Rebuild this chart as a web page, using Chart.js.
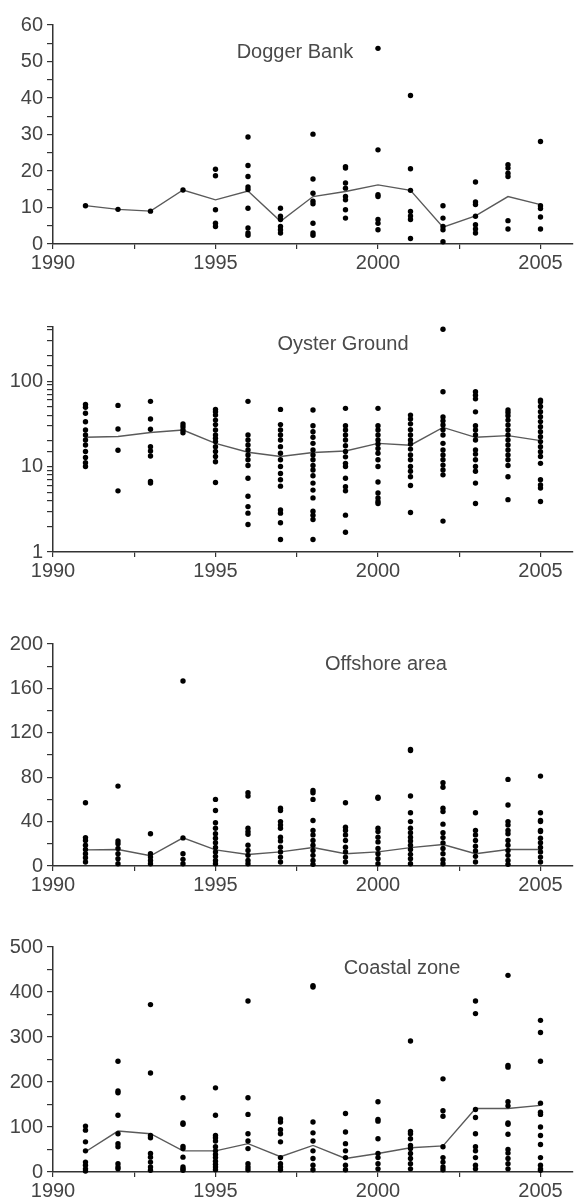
<!DOCTYPE html>
<html>
<head>
<meta charset="utf-8">
<script src="https://cdn.jsdelivr.net/npm/chart.js@4.4.1/dist/chart.umd.min.js"></script>
<style>
  html, body { margin: 0; padding: 0; background: #fff; overflow: hidden; }
  body { width: 577px; height: 1199px; position: relative; }
  canvas { position: absolute; left: 0; }
  .ttl { position: absolute; font-family: 'Liberation Sans', Arial, sans-serif; font-size: 20px; color: #4a4a4a; white-space: nowrap; transform: translate(-50%, -50%); line-height: 1; }
</style>
</head>
<body>
<canvas id="c1" width="577" height="279" style="top:0px"></canvas>
<canvas id="c2" width="577" height="285" style="top:302px"></canvas>
<canvas id="c3" width="577" height="282" style="top:619px"></canvas>
<canvas id="c4" width="577" height="285" style="top:922px"></canvas>
<div class="ttl" style="left:295px; top:51px">Dogger Bank</div>
<div class="ttl" style="left:343px; top:343px">Oyster Ground</div>
<div class="ttl" style="left:386px; top:663px">Offshore area</div>
<div class="ttl" style="left:402px; top:967px">Coastal zone</div>
<script>
// ---------------- DATA ----------------
const years = [1991,1992,1993,1994,1995,1996,1997,1998,1999,2000,2001,2002,2003,2004,2005];
const xTickLabels = [1990, 1995, 2000, 2005];

// Dogger Bank
const doggerLine = [10.5, 9.5, 9, 14.8, 12.1, 14.5, 6.2, 13.0, 14.4, 16.2, 14.7, 4.6, 7.7, 13.0, 10.8];
const doggerPoints = [
  [10.5],
  [9.5],
  [9],
  [14.8],
  [20.5, 18.7, 9.4, 5.7, 4.8],
  [29.3, 21.5, 18.5, 15.6, 14.9, 9.8, 4.4, 3.0, 2.4],
  [9.8, 7.6, 6.7, 4.8, 3.9, 3.0],
  [30.1, 17.8, 13.9, 11.7, 11.0, 5.7, 3.0, 2.4],
  [21.2, 20.8, 16.7, 15.3, 13.0, 12.1, 9.4, 7.1],
  [53.6, 25.8, 13.5, 13.0, 6.7, 5.7, 3.9],
  [40.7, 20.6, 14.7, 8.9, 7.7, 6.7, 1.5],
  [10.5, 7.1, 4.8, 3.9, 0.6],
  [17.0, 11.5, 10.8, 7.6, 5.3, 4.1, 3.0],
  [21.7, 20.8, 19.4, 18.5, 6.4, 4.1],
  [28.1, 10.5, 9.7, 7.4, 4.1]
];
const doggerYTicks = [0, 10, 20, 30, 40, 50, 60];

// Oyster Ground (log scale)
const oysterLine = [22, 22.5, 25, 26.8, 18.7, 14.7, 13.1, 14.6, 15.2, 18.7, 17.8, 28.7, 22, 23, 20.1];
const oysterPoints = [
  [53.4, 49.3, 42, 33.5, 26.8, 23.4, 20.5, 17.9, 15, 12.8, 11.1, 10],
  [52, 27.5, 15.5, 5.2],
  [58, 36, 27.3, 17.1, 15.2, 13.3, 6.7, 6.4],
  [31.5, 29.3, 26.8, 24.9],
  [46.7, 43.7, 40, 35, 31, 26.8, 23.4, 21.4, 19.6, 17.1, 15, 13.1, 11.4, 6.5],
  [58, 23.4, 20.5, 17.9, 15.6, 13.7, 12, 10.3, 7.3, 4.5, 3.4, 2.85, 2.1],
  [46.7, 31, 26.8, 23.4, 20.5, 17.1, 14.3, 12, 10, 8.3, 7, 5.9, 3.1, 2.85, 2.2, 1.4],
  [46, 30, 25.6, 22, 18.7, 15.6, 13.7, 12, 10.3, 9.1, 7.8, 6.4, 5.3, 4.3, 3.0, 2.7, 2.4, 1.4],
  [48, 30, 26.8, 23.4, 20.5, 17.5, 15, 13, 10.9, 10, 7.3, 5.8, 5.2, 2.7, 1.7],
  [48, 30, 26.8, 23.4, 20.5, 18.4, 16.3, 14.3, 12, 10, 6.6, 4.9, 4.3, 3.9, 3.7],
  [40, 36, 31.6, 27, 23.4, 20.5, 18.4, 16, 13.7, 12, 10, 8.8, 7.6, 6, 2.9],
  [405, 75, 38, 34.3, 30.7, 27, 23.4, 18.7, 15.6, 13.7, 12, 10.4, 9.1, 8, 2.3],
  [75, 68.5, 62, 43.7, 30, 26.8, 23.4, 20.5, 15.6, 14, 12, 10, 8.8, 6.4, 3.7],
  [46, 42.8, 39.3, 35, 30.7, 26.8, 23.4, 20.5, 17.9, 15.6, 13.7, 12, 10.3, 7.6, 4.1],
  [60, 57.5, 50.4, 43.8, 38.3, 33.6, 29.3, 25.6, 22.4, 19.6, 17.1, 14.9, 13.1, 10.9, 7, 6.1, 5.6, 3.9]
];
const oysterYTicks = [1, 10, 100];

// Offshore area
const offshoreLine = [14.5, 14.8, 9.2, 25.4, 14.5, 10.4, 12.7, 16.6, 11, 12.7, 16.6, 19.3, 11, 14.8, 14.8];
const offshorePoints = [
  [57, 25.6, 23, 18.7, 14.8, 11, 7.5, 3.6],
  [72, 22.6, 20, 15.7, 11, 6.6, 2],
  [29, 11, 8, 5, 2],
  [166.6, 25.3, 11, 6, 2],
  [60, 50, 39, 34, 29, 25, 21, 16.6, 12.7, 8.7, 5, 2],
  [66, 63, 34, 31, 28.6, 18.7, 14, 9.6, 5, 2],
  [52, 50, 40, 37, 34, 26, 22.6, 17, 12.7, 8, 3.6],
  [68, 66, 60, 41, 32, 28, 23, 18.7, 14, 9.6, 5, 1.5],
  [57, 35, 32, 28, 23, 17, 12.7, 8, 3.6],
  [62, 61, 34, 31, 26, 21.7, 15.7, 11, 6.6, 2],
  [105, 104, 63, 48, 40, 34, 30, 26, 22.6, 18.7, 14.8, 10.5, 6.6, 2],
  [75, 71, 52, 49, 37.7, 30, 25.6, 20.8, 15.7, 11, 5.7, 2],
  [48, 32, 28, 23, 17.8, 13.6, 8.7, 3.6],
  [78, 55, 40, 37, 32, 29, 23, 18.7, 14, 9.6, 5, 1.5],
  [81, 48, 41, 40, 32, 31, 25, 21, 16.6, 12.7, 8, 3.6]
];
const offshoreYTicks = [0, 40, 80, 120, 160, 200];

// Coastal zone
const coastalLine = [45, 91, 85, 47, 47, 63, 34, 59, 30, 41, 54, 58, 141, 141, 148];
const coastalPoints = [
  [102, 93, 67, 47, 22, 15, 7, 2],
  [246, 180, 176, 126, 85, 63, 56, 18.5, 11, 7],
  [372, 220, 81, 76, 41, 33, 22, 11, 4],
  [165, 109, 106, 57, 52, 33, 11, 7, 4],
  [187, 126, 81, 76, 69, 56, 47, 39, 32, 24, 17, 11, 5],
  [380, 165, 128, 85, 69, 52, 18.5, 11, 5],
  [118, 111, 94, 85, 67, 32, 18.5, 11, 5],
  [414, 411, 111, 87, 69, 47, 30, 15, 5],
  [130, 89, 63, 47, 32, 15, 5],
  [156, 117, 113, 74, 41, 32, 18.5, 7],
  [291, 90, 85, 74, 59, 52, 41, 30, 18.5, 7],
  [207, 136, 124, 56, 32, 22, 11, 5],
  [380, 352, 139, 121, 85, 56, 47, 32, 15, 7],
  [437, 237, 233, 156, 147, 109, 106, 84, 50, 42, 30, 18.5, 7],
  [337, 310, 246, 153, 133, 128, 100, 81, 61, 32, 15, 7, 4]
];
const coastalYTicks = [0, 100, 200, 300, 400, 500];

// ---------------- RENDER ----------------
const FONT = { family: "'Liberation Sans', Arial, sans-serif", size: 20 };
const TXT = '#444';
const AX = '#333';

function scatterData(pts) {
  const out = [];
  pts.forEach((arr, i) => arr.forEach(v => out.push({ x: years[i], y: v })));
  return out;
}
function lineData(vals) {
  return vals.map((v, i) => ({ x: years[i], y: v }));
}

function makeChart(id, pts, line, yScale) {
  new Chart(document.getElementById(id), {
    type: 'scatter',
    data: {
      datasets: [
        {
          type: 'line',
          data: lineData(line),
          borderColor: '#5a5a5a',
          borderWidth: 1.4,
          pointRadius: 0,
          tension: 0,
          clip: false,
          order: 2
        },
        {
          type: 'scatter',
          data: scatterData(pts),
          backgroundColor: '#000',
          borderColor: '#000',
          borderWidth: 0,
          pointRadius: 2.7,
          clip: false,
          order: 1
        }
      ]
    },
    options: {
      responsive: false,
      animation: false,
      devicePixelRatio: 1,
      layout: { padding: { top: 25, left: 0, right: 0, bottom: 0 } },
      plugins: { legend: { display: false }, tooltip: { enabled: false } },
      scales: {
        x: {
          type: 'linear',
          min: 1990,
          max: 2006,
          afterFit: s => { s.height = 35; },
          border: { display: true, color: AX, width: 1.5 },
          grid: { display: true, drawOnChartArea: false, drawTicks: true, tickLength: 5, color: AX, lineWidth: 1.2 },
          ticks: {
            stepSize: 2.5,
            includeBounds: false,
            autoSkip: false,
            maxRotation: 0,
            padding: 2,
            color: TXT,
            font: FONT,
            callback: v => (xTickLabels.includes(v) ? String(v) : '')
          }
        },
        y: Object.assign({
          afterFit: s => { s.width = 53; },
          border: { display: true, color: AX, width: 1.5 },
          grid: { display: true, drawOnChartArea: false, drawTicks: true, tickLength: 6, color: AX, lineWidth: 1.2 }
        }, yScale)
      }
    }
  });
}

function linTicks(step, labels) {
  return {
    stepSize: step,
    autoSkip: false,
    padding: 4,
    color: TXT,
    font: FONT,
    callback: v => (labels.includes(v) ? String(v) : '')
  };
}

makeChart('c1', doggerPoints, doggerLine, { type: 'linear', min: 0, max: 60, ticks: linTicks(5, doggerYTicks) });
makeChart('c2', oysterPoints, oysterLine, {
  type: 'logarithmic', min: 1, max: 430,
  ticks: { autoSkip: false, padding: 4, color: TXT, font: FONT,
           callback: v => (oysterYTicks.includes(v) ? String(v) : '') }
});
makeChart('c3', offshorePoints, offshoreLine, { type: 'linear', min: 0, max: 200, ticks: linTicks(20, offshoreYTicks) });
makeChart('c4', coastalPoints, coastalLine, { type: 'linear', min: 0, max: 500, ticks: linTicks(50, coastalYTicks) });
</script>
</body>
</html>
